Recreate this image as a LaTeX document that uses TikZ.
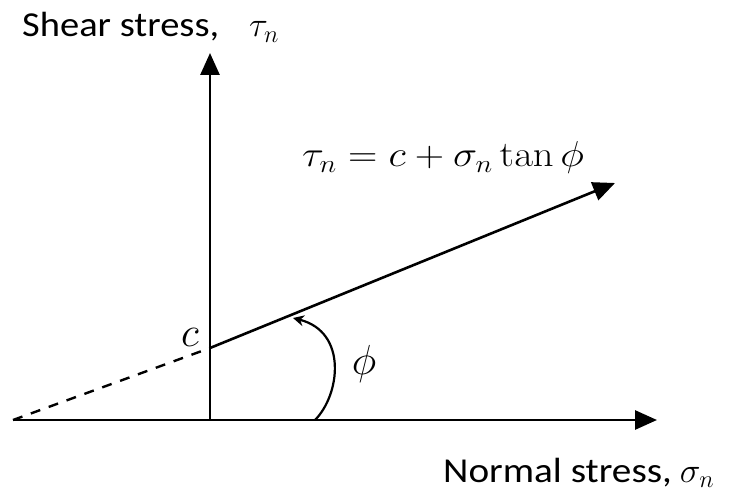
\RequirePackage{fix-cm}
\documentclass[tikz,border=0pt]{standalone}
\usepackage[no-math]{fontspec}
\setmainfont{Carlito}
\usetikzlibrary{arrows.meta}
\begin{document}
\begin{tikzpicture}[x=1pt,y=-1pt,
  axis/.style={line width=2.8pt,-{Triangle[length=22pt,width=19pt]}},
  lbl/.style={inner sep=0pt,font=\fontsize{35}{40}\selectfont},
  mathlbl/.style={inner sep=0pt,font=\fontsize{36}{42}\selectfont},
  biglbl/.style={inner sep=0pt,font=\fontsize{42}{48}\selectfont}]
\useasboundingbox (0,0) rectangle (734,492);
\coordinate (O) at (13,420);
\coordinate (V) at (210,420);
\coordinate (Vtip) at (210,53);
\coordinate (Htip) at (657,420);
\coordinate (C) at (210,348);
\coordinate (T) at (615,183);
\coordinate (A0) at (315,420);
\coordinate (A1) at (293,318);
\draw[axis] (O) -- (Htip);
\draw[axis] (V) -- (Vtip);
\draw[line width=2.4pt,dash pattern=on 10pt off 9pt] (O) -- (C);
\draw[line width=2.6pt,-{Triangle[length=22pt,width=19pt]}] (C) -- (T);
\draw[line width=2.2pt,-{Stealth[length=11pt,width=11pt]}] (A0) .. controls (340,395) and (348,332) .. (A1);
\node[lbl,anchor=base west] (ylab) at (22,37) {\scalebox{1.1}[1]{Shear stress,}\hspace{30pt}$\tau_n$};
\node[lbl,anchor=base west] (xlab) at (443,482) {\scalebox{1.12}[1]{Normal stress,}\hspace{8pt}$\sigma_n$};
\node[mathlbl,anchor=base west] (eq) at (302,167) {\scalebox{1.13}[1]{$\tau_n = c + \sigma_n \tan\phi$}};
\node[biglbl] (clab) at (190,337) {$c$};
\node[biglbl] (philab) at (364,364) {$\phi$};
\end{tikzpicture}
\end{document}
